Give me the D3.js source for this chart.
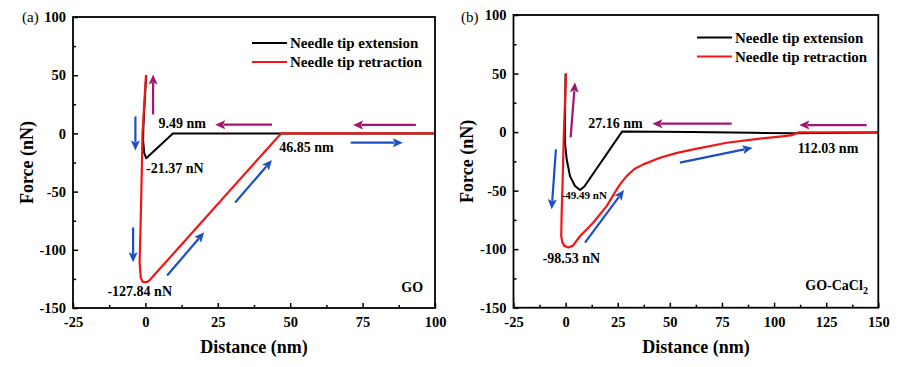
<!DOCTYPE html>
<html><head><meta charset="utf-8">
<script src="https://cdn.jsdelivr.net/npm/d3@7"></script>
<style>body{margin:0;background:#fff}svg{display:block}text{font-family:"Liberation Serif","Times New Roman",serif}</style>
</head><body><svg id="c" width="909" height="367"></svg>
<script>
// ---------- DATA ----------
const yTicks = [-150, -100, -50, 0, 50, 100];
const xTicksA = [-25, 0, 25, 50, 75, 100];
const xTicksB = [-25, 0, 25, 50, 75, 100, 125, 150];
const seriesNames = ["Needle tip extension", "Needle tip retraction"];

// Panel (a) GO
const goExtension = [[100,0],[60,0],[9.49,0],[0.3,-21.37],[-0.4,-17],[-0.8,-6],[-0.7,5],[-0.3,25],[0.3,50]];
const goRetraction = [[0.2,50],[-0.4,25],[-1,0],[-1.4,-50],[-1.7,-83],[-2,-111],[-1.6,-124],[-1,-127.3],[-0.3,-127.84],[0.6,-127.6],[1.5,-126],[46.85,0],[70,0],[100,0]];
// Panel (b) GO-CaCl2
const gcExtension = [[150,-0.3],[110,-1],[90,-0.6],[60,0],[27.16,0.6],[9,-46.5],[6.9,-49.49],[4.5,-46],[2.1,-37.6],[0.5,-23],[-0.3,-9],[-0.3,5],[-0.2,30],[0,50]];
const gcRetraction = [[0.2,50],[-0.3,25],[-0.8,2],[-1.4,-40],[-1.9,-69],[-2.1,-88.8],[-1.6,-94],[-0.6,-97.2],[1.3,-98.53],[3.5,-97],[6.9,-89],[13.2,-77.4],[19.7,-63.2],[24.5,-49],[27,-42.5],[29.3,-37.6],[33,-31.5],[37.3,-27.6],[45.3,-21.9],[53,-18],[61.3,-14.8],[77.3,-9.1],[93.2,-5.6],[104,-3.6],[108.5,-2.6],[111.6,-0.3],[150,-0.3]];

// arrows: [x1,y1,x2,y2] (tip at x2,y2), data units
const goArrowsMagenta = [[2.66,16.3,2.66,50.7],[43.7,7.5,24.1,7.5],[93.4,7.3,71.7,7.3]];
const goArrowsBlue = [[-3.45,14.6,-3.45,-14.6],[-4.24,-80.8,-4.24,-110.8],[7.5,-122,20.3,-85],[31,-59.3,43.7,-22.9],[70.9,-8,88.9,-8]];
const gcArrowsMagenta = [[2.4,-4.5,4.5,42.5],[79.7,7.2,41.6,7.2],[144.4,6,112.1,6]];
const gcArrowsBlue = [[-4.65,-14.8,-6.7,-66],[9.3,-94.5,28,-49.5],[54.8,-26.1,89.7,-13.3]];

// annotations: [text, x, y, anchor, size]
const goLabels = [["9.49 nm",4.5,4.3,"start",14],["-21.37 nN",0.24,-34.4,"start",14],["46.85 nm",46.2,-16.3,"start",14],["-127.84 nN",-13.1,-140,"start",14],["GO",95.9,-136.6,"end",14]];
const gcLabels = [["27.16 nm",10.8,3.2,"start",14],["-49.49 nN",-1.9,-57.5,"start",11],["-98.53 nN",-11,-112.1,"start",14],["112.03 nm",111.3,-18.2,"start",14]];

// ---------- DRAW ----------
const svg = d3.select("#c");
svg.append("rect").attr("width",909).attr("height",367).attr("fill","#fff");
const RED = "#f01616", BLACK = "#000", MAG = "#a3166f", BLUE = "#1c4fc6";
const fmt = d => String(d);

function panel(o){
  const g = svg.append("g");
  const x = d3.scaleLinear().domain(o.xDomain).range([o.left,o.right]);
  const y = d3.scaleLinear().domain([-150,100]).range([o.bottom,o.top]);
  const line = d3.line().x(d=>x(d[0])).y(d=>y(d[1]));
  g.append("path").datum(o.ext).attr("d",line).attr("fill","none").attr("stroke",BLACK).attr("stroke-width",2).attr("stroke-linejoin","round");
  g.append("path").datum(o.ret).attr("d",line).attr("fill","none").attr("stroke",RED).attr("stroke-width",2.2).attr("stroke-linejoin","round");
  const minorX = d3.range(o.xDomain[0]+12.5, o.xDomain[1], 25);
  const minorY = d3.range(-125, 100, 50);
  const ax = g.append("g");
  ax.append("g").attr("transform",`translate(0,${o.bottom})`).call(d3.axisBottom(x).tickValues(o.xTicks).tickSize(-5).tickPadding(9).tickFormat(fmt));
  ax.append("g").attr("transform",`translate(0,${o.bottom})`).call(d3.axisBottom(x).tickValues(minorX).tickSize(-3).tickFormat(""));
  ax.append("g").attr("transform",`translate(${o.left},0)`).call(d3.axisLeft(y).tickValues(yTicks).tickSize(-5).tickPadding(7).tickFormat(fmt));
  ax.append("g").attr("transform",`translate(${o.left},0)`).call(d3.axisLeft(y).tickValues(minorY).tickSize(-3).tickFormat(""));
  ax.selectAll(".domain").remove();
  ax.selectAll(".tick line").attr("stroke","#000").attr("stroke-width",1.5);
  ax.selectAll(".tick text").attr("font-family","'Liberation Serif',serif").attr("font-weight","bold").attr("font-size",14.5).attr("fill","#000");
  g.append("rect").attr("x",o.left).attr("y",o.top).attr("width",o.right-o.left).attr("height",o.bottom-o.top)
    .attr("fill","none").attr("stroke","#000").attr("stroke-width",1.8);
  function arrow(a,color){
    const x1=x(a[0]),y1=y(a[1]),x2=x(a[2]),y2=y(a[3]);
    const ang=Math.atan2(y2-y1,x2-x1), L=10, W=4.5;
    const bxp=x2-L*Math.cos(ang), byp=y2-L*Math.sin(ang);
    g.append("line").attr("x1",x1).attr("y1",y1).attr("x2",bxp+1.5*Math.cos(ang)).attr("y2",byp+1.5*Math.sin(ang)).attr("stroke",color).attr("stroke-width",2.2);
    const px=-Math.sin(ang)*W, py=Math.cos(ang)*W;
    g.append("path").attr("d",`M${x2},${y2}L${bxp+px},${byp+py}L${bxp+2*Math.cos(ang)},${byp+2*Math.sin(ang)}L${bxp-px},${byp-py}Z`).attr("fill",color);
  }
  o.am.forEach(a=>arrow(a,MAG));
  o.ab.forEach(a=>arrow(a,BLUE));
  o.labels.forEach(l=>{
    g.append("text").attr("x",x(l[1])).attr("y",y(l[2])).attr("text-anchor",l[3]).attr("font-size",l[4]).attr("font-weight","bold").text(l[0]);
  });
  if(o.subLabel){
    const t=g.append("text").attr("x",x(o.subLabel[1])).attr("y",y(o.subLabel[2])).attr("text-anchor","end").attr("font-size",14).attr("font-weight","bold");
    t.append("tspan").text(o.subLabel[0]);
    t.append("tspan").attr("font-size",10).attr("dy",4).text("2");
  }
  seriesNames.forEach((n,i)=>{
    const yy=o.legY+i*19;
    g.append("line").attr("x1",o.legX).attr("x2",o.legX+35).attr("y1",yy).attr("y2",yy).attr("stroke",i?RED:BLACK).attr("stroke-width",2.2);
    g.append("text").attr("x",o.legX+38).attr("y",yy+5).attr("font-size",15).attr("font-weight","bold").text(n);
  });
  g.append("text").attr("x",(o.left+o.right)/2).attr("y",353).attr("text-anchor","middle").attr("font-size",18).attr("font-weight","bold").text("Distance (nm)");
  g.append("text").attr("transform",`translate(${o.ytx},${(o.top+o.bottom)/2}) rotate(-90)`).attr("text-anchor","middle").attr("dy","0.35em").attr("font-size",18).attr("font-weight","bold").text("Force (nN)");
  g.append("text").attr("x",o.tagX).attr("y",22).attr("font-size",15).text(o.tag);
}

panel({xDomain:[-25,100],xTicks:xTicksA,left:73,right:435,top:17,bottom:308,ext:goExtension,ret:goRetraction,
  am:goArrowsMagenta,ab:goArrowsBlue,labels:goLabels,legX:252,legY:43,ytx:27,tagX:22,tag:"(a)"});
panel({xDomain:[-25,150],xTicks:xTicksB,left:513.5,right:878.3,top:15,bottom:307.7,ext:gcExtension,ret:gcRetraction,
  am:gcArrowsMagenta,ab:gcArrowsBlue,labels:gcLabels,subLabel:["GO-CaCl",145,-135.2],legX:697,legY:37.5,ytx:467,tagX:461,tag:"(b)"});
</script></body></html>
